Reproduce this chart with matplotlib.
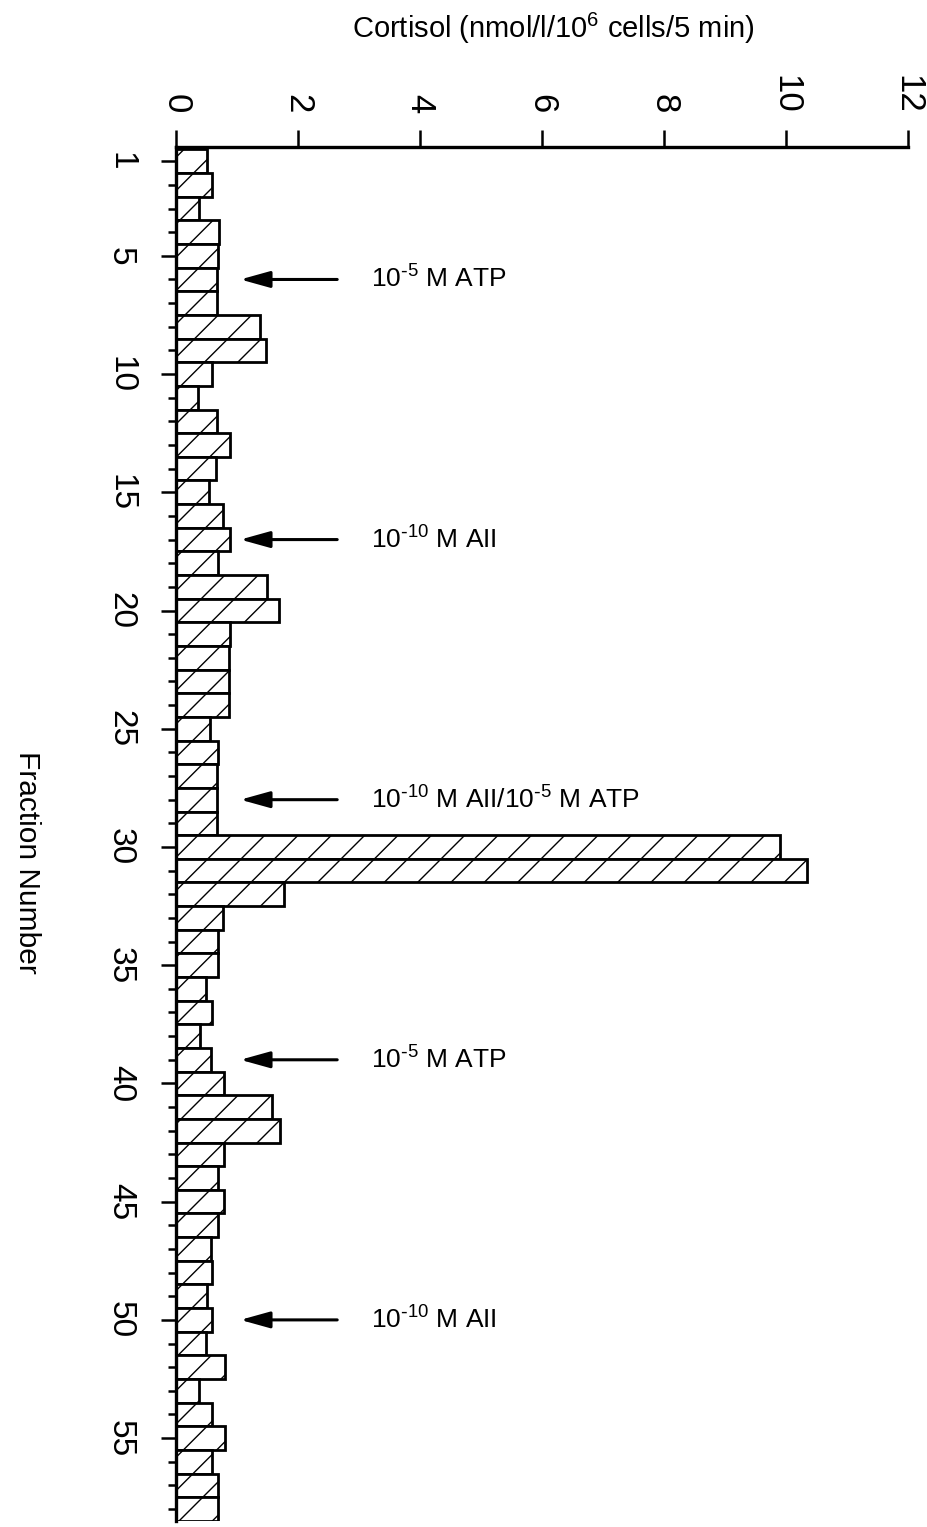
import numpy as np
import matplotlib
matplotlib.use('Agg')
import matplotlib.pyplot as plt

plt.rcParams['font.family'] = ['Liberation Sans', 'DejaVu Sans']
plt.rcParams['mathtext.default'] = 'regular'
plt.rcParams['hatch.linewidth'] = 1.0

# cortisol per fraction (nmol/l/10^6 cells/5 min)
fractions = np.arange(1, 59)
cortisol = [0.51, 0.59, 0.37, 0.70, 0.68, 0.66, 0.66, 1.37, 1.47, 0.58,
            0.36, 0.66, 0.88, 0.65, 0.54, 0.76, 0.88, 0.68, 1.49, 1.68,
            0.88, 0.87, 0.87, 0.87, 0.56, 0.68, 0.67, 0.66, 0.67, 9.90,
            10.35, 1.76, 0.77, 0.69, 0.69, 0.48, 0.59, 0.39, 0.57, 0.79,
            1.57, 1.70, 0.79, 0.68, 0.79, 0.68, 0.57, 0.59, 0.51, 0.59,
            0.48, 0.80, 0.38, 0.59, 0.80, 0.59, 0.69, 0.69]

# stimulus markers
stim_fraction = [6, 17, 28, 39, 50]
stim_label = [r'10$^{\text{-}5}$ M ATP', r'10$^{\text{-}10}$ M AII',
              r'10$^{\text{-}10}$ M AII/10$^{\text{-}5}$ M ATP',
              r'10$^{\text{-}5}$ M ATP', r'10$^{\text{-}10}$ M AII']

x_ticks = [0, 2, 4, 6, 8, 10, 12]
y_major = [1, 5, 10, 15, 20, 25, 30, 35, 40, 45, 50, 55]

fig = plt.figure(figsize=(9.28, 15.27), dpi=100)
ax = fig.add_axes([0.19, 0.004, 0.978 - 0.19, 0.9037 - 0.004])

ax.barh(fractions, cortisol, height=1.0, color='white', edgecolor='black',
        linewidth=2.0, hatch='/')

ax.set_xlim(0, 12)
ax.set_ylim(58.5, 0.4)

ax.spines['right'].set_visible(False)
ax.spines['bottom'].set_visible(False)
ax.spines['top'].set_linewidth(2.4)
ax.spines['left'].set_linewidth(2.4)

ax.xaxis.tick_top()
ax.set_xticks(x_ticks)
ax.set_xticklabels([str(v) for v in x_ticks], rotation=-90, fontsize=25)
ax.tick_params(axis='x', length=12, width=1.8, pad=12)

ax.set_yticks(y_major)
ax.set_yticklabels([str(v) for v in y_major], rotation=-90, fontsize=24, va='center')
ax.set_yticks([f for f in fractions if f not in y_major], minor=True)
ax.tick_params(axis='y', which='major', length=11, width=1.8, pad=18)
ax.tick_params(axis='y', which='minor', length=6, width=1.8)

for frac, lab in zip(stim_fraction, stim_label):
    ax.annotate('', xy=(1.05, frac), xytext=(2.64, frac),
                arrowprops=dict(arrowstyle='-|>,head_length=0.9,head_width=0.25',
                                color='black', lw=2.2, mutation_scale=20,
                                shrinkA=0, shrinkB=0))
    ax.text(3.2, frac, lab, fontsize=19, va='center', ha='left')

fig.text(553 / 928, 1 - 28 / 1527, 'Cortisol (nmol/l/10$^6$ cells/5 min)',
         fontsize=21, ha='center', va='center')
fig.text(27 / 928, 1 - 862 / 1527, 'Fraction Number', fontsize=21.5,
         rotation=-90, ha='center', va='center')

fig.savefig('out.png', dpi=100)
